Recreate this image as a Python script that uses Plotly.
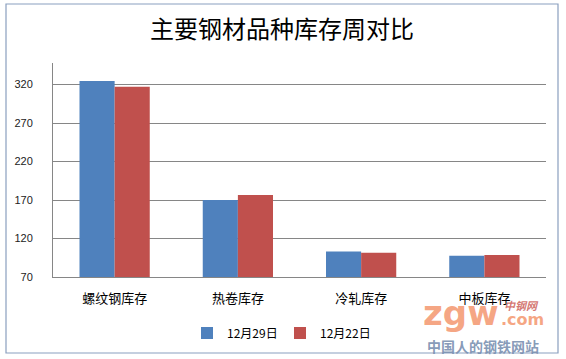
import plotly.graph_objects as go

categories = ["螺纹钢库存", "热卷库存", "冷轧库存", "中板库存"]
series_names = ["12月29日", "12月22日"]
values_dec29 = [324.5, 170, 103, 97.5]
values_dec22 = [317, 176.5, 101.5, 98.5]
y_ticks = [70, 120, 170, 220, 270, 320]

W, H = 566, 359
L, R, T, B = 53, 20, 63, 82

fig = go.Figure()
fig.add_trace(go.Bar(x=categories, y=values_dec29, name=series_names[0],
                     marker=dict(color="#4F81BD", line=dict(width=0))))
fig.add_trace(go.Bar(x=categories, y=values_dec22, name=series_names[1],
                     marker=dict(color="#C0504D", line=dict(width=0))))

pw = W - L - R
ph = H - T - B
def px_x(x):
    return (x - L) / pw
def px_y(y):
    return (H - B - y) / ph

cjk = "'Noto Sans CJK SC', sans-serif"

fig.update_layout(
    width=W, height=H,
    margin=dict(l=L, r=R, t=T, b=B, pad=0, autoexpand=False),
    paper_bgcolor="white", plot_bgcolor="white",
    barmode="group", bargap=0.43, bargroupgap=0,
    showlegend=True,
    legend=dict(orientation="h", x=px_x(280), xanchor="center",
                y=px_y(333), yanchor="middle",
                font=dict(family=cjk, size=12, color="#000000"),
                itemwidth=30, entrywidth=48, tracegroupgap=0, bgcolor="rgba(0,0,0,0)"),
    title=dict(text="主要钢材品种库存周对比", x=282/W, xanchor="center",
               y=1 - 30/H, yanchor="middle",
               font=dict(family=cjk, size=24, color="#000000")),
    xaxis=dict(showgrid=False, showline=True, linecolor="#868686", linewidth=1,
               ticks="", tickfont=dict(family=cjk, size=13, color="#000000"),
               ticklabelstandoff=9),
    yaxis=dict(range=[70, 348], tickvals=y_ticks, showgrid=True, gridcolor="#868686",
               gridwidth=1, showline=True, linecolor="#868686", linewidth=1,
               ticks="", ticklabelstandoff=17,
               tickfont=dict(family="'Liberation Sans', Arial, sans-serif", size=11, color="#222222"),
               zeroline=False),
)

# outer chart border
fig.add_shape(type="rect", xref="paper", yref="paper",
              x0=px_x(6), x1=px_x(558), y0=px_y(353), y1=px_y(4),
              line=dict(color="#8A9FBF", width=1.2), fillcolor="rgba(0,0,0,0)", layer="below")

# watermark
wm = "rgba(244,150,110,0.85)"
fig.add_annotation(xref="paper", yref="paper", x=px_x(421), y=px_y(313),
                   text="<b>zgw</b>", showarrow=False,
                   font=dict(family="'DejaVu Sans', sans-serif", size=34, color=wm),
                   xanchor="left", yanchor="middle")
fig.add_annotation(xref="paper", yref="paper", x=px_x(499), y=px_y(319),
                   text="<b>.com</b>", showarrow=False,
                   font=dict(family="'DejaVu Sans', sans-serif", size=16, color=wm),
                   xanchor="left", yanchor="middle")
fig.add_annotation(xref="paper", yref="paper", x=px_x(521), y=px_y(305),
                   text="<b><i>中钢网</i></b>", showarrow=False,
                   font=dict(family=cjk, size=11, color="rgba(205,95,90,0.85)"),
                   xanchor="center", yanchor="middle")
fig.add_annotation(xref="paper", yref="paper", x=px_x(483), y=px_y(346),
                   text="<b>中国人的钢铁网站</b>", showarrow=False,
                   font=dict(family=cjk, size=14, color="rgba(120,142,175,0.9)"),
                   xanchor="center", yanchor="middle")

fig.write_html("out.html", config={"displayModeBar": False},
               post_script="document.body.style.margin='0';document.body.style.padding='0';")
